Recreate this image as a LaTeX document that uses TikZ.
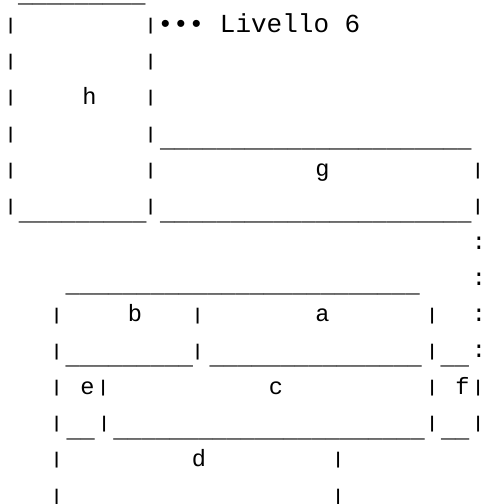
\documentclass[tikz,border=0pt]{standalone}
\usepackage{fontspec}
\usepackage{tikz}
\usetikzlibrary{positioning}
\newfontfamily\artfont{Liberation Mono}
\ExplSyntaxOn
\NewDocumentCommand\ulrun{m}{\prg_replicate:nn{#1}{\textunderscore}}
\ExplSyntaxOff
\newcommand\pipe{\raisebox{1.6pt}{\scalebox{1}[0.72]{|}}}

\begin{document}
\begin{tikzpicture}[
    x=1pt,y=-1pt,
    ch/.style={inner sep=0pt,outer sep=0pt,anchor=base,font=\artfont\fontsize{23.6}{28}\selectfont},
    run/.style={ch,anchor=base west,yshift=-7pt},
    lvl/.style={ch,anchor=base west,font=\artfont\fontsize{26}{30}\selectfont}
  ]
    \useasboundingbox (0,0) rectangle (485,504);
    % blocco h e g
    \node[run] (hTop) at (18,-4.2) {\ulrun{9}};
    \foreach \k in {0,...,5} {
      \node[ch] (hl\k) at (10.7,{32+36.2*\k}) {\pipe};
      \node[ch] (hr\k) at (150.7,{32+36.2*\k}) {\pipe};
    }
    \node[lvl] (livello) at (157.5,32) {••• Livello 6};
    \node[ch] (h) at (89.5,104.4) {h};
    \node[run] (gTop) at (160,140.6) {\ulrun{22}};
    \node[ch] (g) at (322.5,176.8) {g};
    \node[ch] (gr4) at (478,176.8) {\pipe};
    \node[run] (hBot) at (19,213) {\ulrun{9}};
    \node[run] (gBot) at (160,213) {\ulrun{22}};
    \node[ch] (gr5) at (478,213) {\pipe};
    % puntini verso il blocco sotto
    \node[ch] (dot6) at (479,249.2) {:};
    \node[ch] (dot7) at (479,285.4) {:};
    \node[ch] (dot8) at (479,321.6) {:};
    \node[ch] (dot9) at (479,357.8) {:};
    % blocco a b
    \node[run] (abTop) at (65.7,285.4) {\ulrun{25}};
    \node[ch] (bl8) at (56.7,321.6) {\pipe};
    \node[ch] (b) at (135,321.6) {b};
    \node[ch] (bm8) at (197.7,321.6) {\pipe};
    \node[ch] (a) at (322.5,321.6) {a};
    \node[ch] (ar8) at (432.3,321.6) {\pipe};
    \node[ch] (bl9) at (56.7,357.8) {\pipe};
    \node[run] (bBot) at (65.7,357.8) {\ulrun{9}};
    \node[ch] (bm9) at (197.7,357.8) {\pipe};
    \node[run] (aBot) at (209.5,357.8) {\ulrun{15}};
    \node[ch] (ar9) at (432.3,357.8) {\pipe};
    \node[run] (fTop) at (440.7,357.8) {\ulrun{2}};
    % blocco e c f
    \node[ch] (el10) at (56.7,394) {\pipe};
    \node[ch] (e) at (87.5,394) {e};
    \node[ch] (er10) at (103.3,394) {\pipe};
    \node[ch] (c) at (276,394) {c};
    \node[ch] (fl10) at (432.3,394) {\pipe};
    \node[ch] (f) at (462.5,394) {f};
    \node[ch] (fr10) at (478.3,394) {\pipe};
    \node[ch] (el11) at (56.7,430.2) {\pipe};
    \node[run] (eBot) at (66.5,430.2) {\ulrun{2}};
    \node[ch] (er11) at (104.3,430.2) {\pipe};
    \node[run] (cBot) at (113.3,430.2) {\ulrun{22}};
    \node[ch] (fl11) at (432.3,430.2) {\pipe};
    \node[run] (fBot) at (441,430.2) {\ulrun{2}};
    \node[ch] (fr11) at (478.3,430.2) {\pipe};
    % blocco d
    \foreach \k in {12,13} {
      \node[ch] (dl\k) at (56.7,{32+36.2*\k}) {\pipe};
      \node[ch] (dr\k) at (338.3,{32+36.2*\k}) {\pipe};
    }
    \node[ch] (d) at (199,466.4) {d};
  \end{tikzpicture}
\end{document}
